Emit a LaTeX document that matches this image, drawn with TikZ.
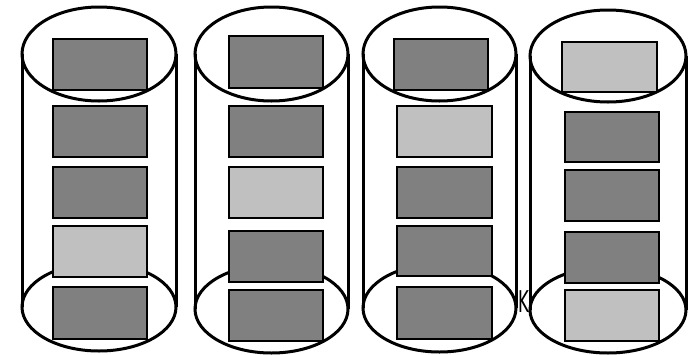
\documentclass[tikz,border=0pt]{standalone}
\usepackage{fontspec}
\newfontfamily\kfont{DejaVu Sans}
\definecolor{darkbox}{HTML}{808080}
\definecolor{lightbox}{HTML}{C0C0C0}
\tikzset{
  cyl/.style={draw=black, line width=3pt},
  dbox/.style={draw=black, line width=2.6pt, fill=darkbox},
  lbox/.style={draw=black, line width=2.6pt, fill=lightbox},
}
\begin{document}
\begin{tikzpicture}[x=1pt,y=-1pt]
\useasboundingbox (0,0) rectangle (689,354);
% K label
\node[font=\kfont\fontsize{30}{32}\selectfont, inner sep=0pt, anchor=center, xscale=0.55] (klabel) at (523.5,301.5) {K};
% cylinder 1
\draw[cyl] (99,54) ellipse [x radius=77, y radius=47];
\draw[cyl] (99,307) ellipse [x radius=77, y radius=44];
\draw[cyl] (22,54) -- (22,307) (176,54) -- (176,307);
% cylinder 2
\draw[cyl] (271.5,54) ellipse [x radius=76.5, y radius=47];
\draw[cyl] (271.5,309) ellipse [x radius=76.5, y radius=44];
\draw[cyl] (195,54) -- (195,309) (348,54) -- (348,309);
% cylinder 3
\draw[cyl] (439.5,54) ellipse [x radius=76.5, y radius=47];
\draw[cyl] (439.5,308) ellipse [x radius=76.5, y radius=44];
\draw[cyl] (363,54) -- (363,308) (516,54) -- (516,308);
% cylinder 4
\draw[cyl] (608,56) ellipse [x radius=78, y radius=46];
\draw[cyl] (608,310) ellipse [x radius=78, y radius=43];
\draw[cyl] (530,56) -- (530,310) (686,56) -- (686,310);
% boxes cylinder 1
\draw[dbox] (53,39) rectangle (147,90);
\draw[dbox] (53,106) rectangle (147,157);
\draw[dbox] (53,167) rectangle (147,218);
\draw[lbox] (53,226) rectangle (147,277);
\draw[dbox] (53,287) rectangle (147,339);
% boxes cylinder 2
\draw[dbox] (229,36) rectangle (323,88);
\draw[dbox] (229,106) rectangle (323,157);
\draw[lbox] (229,167) rectangle (323,218);
\draw[dbox] (229,231) rectangle (323,282);
\draw[dbox] (229,290) rectangle (323,341);
% boxes cylinder 3
\draw[dbox] (394,39) rectangle (488,90);
\draw[lbox] (397,106) rectangle (492,157);
\draw[dbox] (397,167) rectangle (492,218);
\draw[dbox] (397,226) rectangle (492,276);
\draw[dbox] (397,287) rectangle (492,339);
% boxes cylinder 4
\draw[lbox] (562,42) rectangle (657,92);
\draw[dbox] (565,112) rectangle (659,162);
\draw[dbox] (565,170) rectangle (659,221);
\draw[dbox] (565,232) rectangle (659,283);
\draw[lbox] (565,290) rectangle (659,341);
\end{tikzpicture}
\end{document}
